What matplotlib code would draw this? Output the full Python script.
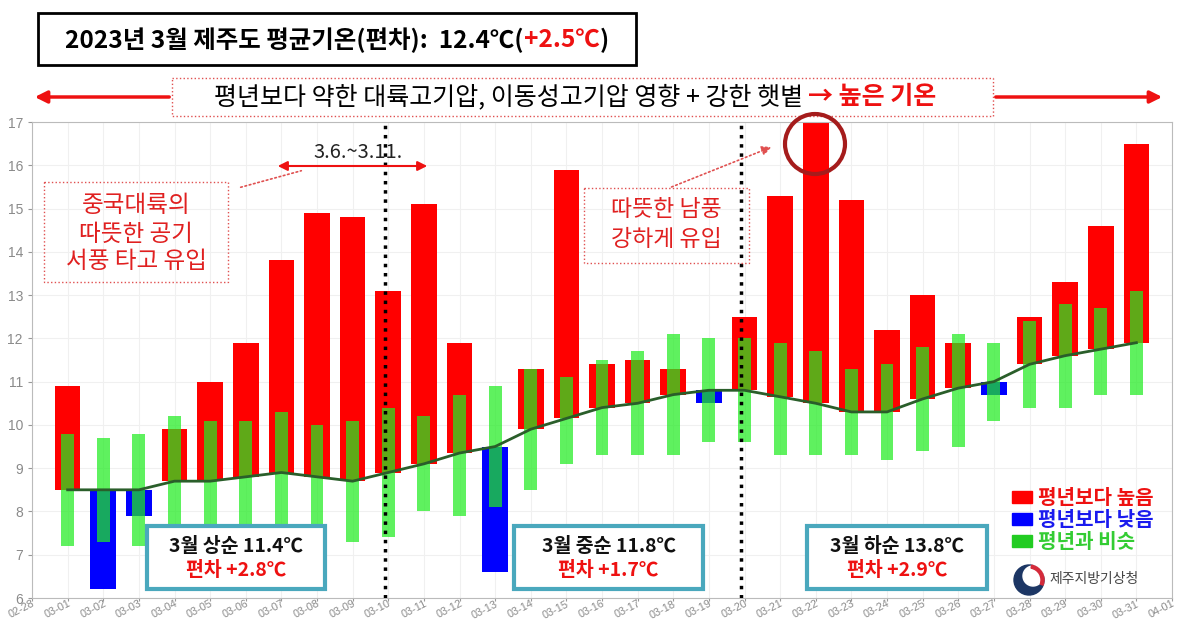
import matplotlib
matplotlib.use("Agg")
import matplotlib.pyplot as plt
from matplotlib.patches import Rectangle, Circle, FancyArrowPatch, Wedge
from matplotlib.transforms import Affine2D

plt.rcParams['font.family'] = ['Noto Sans CJK KR', 'DejaVu Sans']

# ---- data (3월 1일 ~ 31일) ----
tick_labels = ["02-28"] + [f"03-{d:02d}" for d in range(1, 32)] + ["04-01"]
observed = [10.9, 6.2, 7.9, 9.9, 11.0, 11.9, 13.8, 14.9, 14.8, 13.1, 15.1, 11.9, 6.6, 11.3, 15.9, 11.4,
            11.5, 11.3, 10.5, 12.5, 15.3, 17.0, 15.2, 12.2, 13.0, 11.9, 10.7, 12.5, 13.3, 14.6, 16.5]
normal = [8.5, 8.5, 8.5, 8.7, 8.7, 8.8, 8.9, 8.8, 8.7, 8.9, 9.1, 9.35, 9.5, 9.9, 10.15, 10.4,
          10.5, 10.7, 10.8, 10.8, 10.65, 10.5, 10.3, 10.3, 10.6, 10.85, 11.0, 11.4, 11.6, 11.75, 11.9]
green_low = [7.2, 7.3, 7.2, 7.5, 7.5, 7.5, 7.6, 7.5, 7.3, 7.4, 8.0, 7.9, 8.1, 8.5, 9.1, 9.3,
             9.3, 9.3, 9.6, 9.6, 9.3, 9.3, 9.3, 9.2, 9.4, 9.5, 10.1, 10.4, 10.4, 10.7, 10.7]
green_high = [9.8, 9.7, 9.8, 10.2, 10.1, 10.1, 10.3, 10.0, 10.1, 10.4, 10.2, 10.7, 10.9, 11.3, 11.1, 11.5,
              11.7, 12.1, 12.0, 12.0, 11.9, 11.7, 11.3, 11.4, 11.8, 12.1, 11.9, 12.4, 12.8, 12.7, 13.1]
dekad_lines = [9.9, 19.9]
dekad_boxes = [("3월 상순 11.4℃", "편차 +2.8℃"), ("3월 중순 11.8℃", "편차 +1.7℃"), ("3월 하순 13.8℃", "편차 +2.9℃")]

W, H = 1182, 623
fig = plt.figure(figsize=(W / 100, H / 100), dpi=100)
# pixel coordinates, origin at the top-left corner
px = Affine2D().scale(1 / W, -1 / H).translate(0, 1) + fig.transFigure
ax = fig.add_axes([32 / W, 1 - 598 / H, (1172 - 32) / W, (598 - 122) / H])

days = list(range(1, 32))
colors = ['#ff0000' if o >= n else '#0000ff' for o, n in zip(observed, normal)]
heights = [o - n for o, n in zip(observed, normal)]
ax.bar(days, heights, bottom=normal, width=0.72, color=colors, zorder=2)
ax.bar(days, [h - l for h, l in zip(green_high, green_low)], bottom=green_low, width=0.36,
       color='#22ec22', alpha=0.72, zorder=3)
ax.plot(days, normal, color='#2a5e2a', lw=2, zorder=4)
for xv in dekad_lines:
    ax.axvline(xv, color='black', ls=':', lw=2.5, zorder=5)

ax.set_xlim(0, 32)
ax.set_ylim(6, 17)
ax.set_xticks(range(33))
ax.set_xticklabels(tick_labels, rotation=27, ha='right', va='top', rotation_mode='anchor',
                   family='Liberation Sans')
ax.set_yticks(range(6, 18))
ax.set_yticklabels([str(v) for v in range(6, 18)], family='Liberation Sans')
ax.tick_params(axis='both', colors='#999999', labelcolor='#8a8a8a', length=3, labelsize=10)
ax.tick_params(axis='x', labelsize=7.8, pad=-1.5, length=2)
ax.grid(True, color='#f0f0f0', lw=0.8, zorder=0)
ax.set_axisbelow(True)
for s in ax.spines.values():
    s.set_color('#bbbbbb')

renderer = fig.canvas.get_renderer()


def rich_text(cx, cy, parts, size):
    """parts: list of (text, color, weight) drawn left to right, centred at cx."""
    items = []
    total = 0
    for txt, col, wt in parts:
        t = fig.text(0, 0, txt, fontsize=size, color=col, fontweight=wt,
                     transform=px, va='center', ha='left', zorder=10)
        w = t.get_window_extent(renderer).width
        items.append((t, w))
        total += w
    x = cx - total / 2
    for t, w in items:
        t.set_position((x, cy))
        x += w


# title box
fig.add_artist(Rectangle((38, 13), 598, 52, transform=px, fill=False, ec='black', lw=2))
rich_text(337, 40, [("2023년 3월 제주도 평균기온(편차):  12.4℃(", 'black', 'bold'),
                    ("+2.5℃", '#ee1111', 'bold'), (")", 'black', 'bold')], 17.6)

# top annotation
fig.add_artist(Rectangle((172, 78), 821, 38, transform=px, fill=False, ec='#e05050', lw=1, ls=':'))
rich_text(575, 97, [("평년보다 약한 대륙고기압, 이동성고기압 영향 + 강한 햇볕 ", 'black', 'normal'),
                    ("→ 높은 기온", '#ee1111', 'bold')], 18)
for x0, x1 in [(172, 32), (993, 1165)]:
    fig.add_artist(FancyArrowPatch((x0, 97), (x1, 97), transform=px, arrowstyle='-|>',
                                   mutation_scale=18, color='#ee1111', lw=2.5))

# left annotation
fig.add_artist(Rectangle((44, 182), 184, 100, transform=px, fill=False, ec='#e05050', lw=1, ls=':'))
for i, line in enumerate(["중국대륙의", "따뜻한 공기", "서풍 타고 유입"]):
    fig.text(136, 206 + i * 28, line, transform=px, fontsize=17, color='#e02020', ha='center', va='center')
fig.add_artist(FancyArrowPatch((238, 188), (304, 170), transform=px, arrowstyle='-',
                               color='#e05050', lw=1.2, ls=':'))
fig.add_artist(FancyArrowPatch((275, 166), (430, 166), transform=px, arrowstyle='<|-|>',
                               mutation_scale=14, color='#ee1111', lw=1.5))
fig.text(358, 152, "3.6.~3.11.", transform=px, fontsize=14.5, color='#222222', ha='center', va='center')

# middle annotation
fig.add_artist(Rectangle((584, 188), 165, 75, transform=px, fill=False, ec='#e05050', lw=1, ls=':'))
for i, line in enumerate(["따뜻한 남풍", "강하게 유입"]):
    fig.text(666, 209 + i * 30, line, transform=px, fontsize=16.5, color='#e02020', ha='center', va='center')
fig.add_artist(FancyArrowPatch((669, 188), (774, 146), transform=px, arrowstyle='-|>',
                               mutation_scale=14, color='#e05050', lw=1.2, ls=':'))

# circle on the peak
fig.add_artist(Circle((815, 144), 30, transform=px, fill=False, ec='#a51c1c', lw=3, zorder=10))

# dekad boxes
for (l1, l2), (x0, x1) in zip(dekad_boxes, [(147, 325), (514, 703), (807, 987)]):
    fig.add_artist(Rectangle((x0, 526), x1 - x0, 63, transform=px, fc='white', ec='#4aa8bd', lw=3, zorder=8))
    fig.text((x0 + x1) / 2, 547, l1, transform=px, fontsize=14, color='#111111', fontweight='bold',
             ha='center', va='center', zorder=9)
    fig.text((x0 + x1) / 2, 571, l2, transform=px, fontsize=14, color='#ee1111', fontweight='bold',
             ha='center', va='center', zorder=9)

# legend
for i, (lab, pc, tc) in enumerate([("평년보다 높음", '#ff0000', '#ee1111'),
                                   ("평년보다 낮음", '#0000ff', '#1a1aee'),
                                   ("평년과 비슷", '#22cc22', '#33cc33')]):
    y = 497 + i * 22
    fig.add_artist(Rectangle((1012, y - 6), 20, 12, transform=px, color=pc))
    fig.text(1038, y, lab, transform=px, fontsize=14.5, color=tc, fontweight='bold', ha='left', va='center')

# logo
fig.add_artist(Circle((1029, 580), 15, transform=px, color='#1c3664'))
fig.add_artist(Circle((1033, 576), 10, transform=px, color='white'))
fig.add_artist(Wedge((1029, 580), 15, 280, 20, width=3, transform=px, color='#d42a3a'))
fig.text(1049, 579, "제주지방기상청", transform=px, fontsize=10, color='#444444', ha='left', va='center')

fig.savefig("out.png", dpi=100)
